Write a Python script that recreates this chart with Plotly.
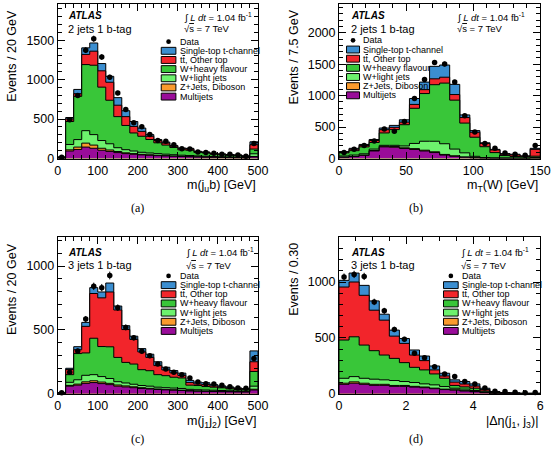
import numpy as np
import plotly.graph_objects as go

W, H = 560, 454

# ---------------- (a) m(j_u b), 2 jets 1 b-tag ----------------
a_edges = list(range(0, 520, 20))
a_data = [15, 490, 800, 1374, 1519, 1287, 1030, 830, 623, 452, 403, 303, 228, 220, 174, 125, 120, 83, 75, 66, 54, 54, 46, 29, 191]
a_multijet = [5, 95, 115, 145, 130, 105, 90, 75, 62, 54, 46, 41, 36, 32, 28, 25, 22, 19, 17, 15, 13, 11, 10, 8, 20]
a_zjets = [1, 15, 30, 50, 40, 25, 18, 14, 10, 8, 7, 6, 5, 4, 4, 3, 3, 3, 2, 2, 2, 2, 1, 1, 6]
a_wlight = [4, 68, 95, 158, 133, 98, 79, 48, 40, 33, 26, 23, 21, 19, 16, 14, 13, 11, 10, 9, 7, 7, 7, 5, 34]
a_wheavy = [5, 291, 548, 838, 880, 677, 552, 394, 307, 229, 203, 171, 137, 115, 92, 68, 67, 45, 42, 29, 26, 20, 19, 11, 60]
a_ttbar = [3, 33, 34, 129, 178, 207, 228, 145, 112, 83, 62, 41, 29, 26, 16, 14, 15, 6, 6, 6, 6, 6, 5, 5, 55]
a_stop = [2, 18, 54, 83, 104, 92, 75, 96, 75, 62, 42, 21, 13, 12, 10, 9, 9, 7, 6, 5, 4, 4, 4, 3, 37]

# ---------------- (b) m_T(W), 2 jets 1 b-tag ----------------
b_edges = [0, 7.5, 15, 22.5, 30, 37.5, 45, 52.5, 60, 67.5, 75, 82.5, 90, 97.5, 105, 112.5, 120, 127.5, 135, 142.5, 150]
b_data = [94, 146, 209, 277, 470, 433, 590, 955, 1258, 1529, 1503, 1216, 679, 423, 240, 162, 89, 68, 52, 209]
b_multijet = [20, 30, 50, 120, 185, 180, 160, 145, 120, 95, 55, 35, 20, 10, 5, 3, 3, 3, 2, 5]
b_zjets = [2, 3, 5, 8, 10, 10, 10, 12, 12, 12, 10, 8, 5, 3, 2, 1, 1, 1, 1, 2]
b_wlight = [18, 22, 20, 22, 15, 20, 30, 83, 143, 168, 170, 107, 65, 22, 8, 6, 4, 2, 2, 8]
b_wheavy = [50, 70, 110, 105, 197, 250, 338, 559, 759, 900, 965, 779, 474, 304, 173, 84, 39, 25, 21, 22]
b_ttbar = [13, 23, 23, 32, 52, 36, 41, 62, 62, 93, 94, 89, 88, 79, 52, 42, 21, 26, 11, 109]
b_stop = [7, 14, 16, 16, 26, 31, 37, 94, 120, 199, 194, 162, 42, 26, 10, 10, 10, 11, 5, 16]

# ---------------- (c) m(j1 j2), 3 jets 1 b-tag ----------------
c_edges = list(range(0, 520, 20))
c_data = [8, 169, 336, 585, 841, 831, 926, 674, 520, 438, 333, 297, 233, 195, 169, 149, 123, 92, 79, 77, 67, 56, 46, 44, 277]
c_multijet = [3, 60, 68, 82, 88, 80, 72, 60, 54, 48, 42, 38, 34, 31, 28, 26, 22, 20, 19, 18, 17, 16, 15, 14, 30]
c_zjets = [0, 6, 8, 12, 14, 12, 10, 9, 8, 7, 6, 5, 4, 4, 4, 3, 3, 3, 2, 2, 2, 2, 2, 2, 6]
c_wlight = [1, 24, 34, 51, 48, 43, 38, 26, 23, 20, 17, 17, 14, 13, 13, 13, 10, 9, 9, 8, 7, 6, 5, 4, 24]
c_wheavy = [3, 60, 205, 175, 285, 235, 248, 190, 161, 158, 124, 121, 98, 94, 85, 82, 33, 33, 27, 24, 21, 15, 12, 11, 115]
c_ttbar = [2, 40, 30, 208, 350, 381, 429, 371, 257, 193, 139, 104, 71, 45, 34, 20, 20, 12, 15, 10, 7, 7, 7, 2, 76]
c_stop = [1, 10, 24, 31, 46, 46, 70, 31, 30, 25, 26, 25, 30, 21, 18, 18, 17, 15, 15, 10, 8, 8, 5, 8, 85]

# ---------------- (d) |Delta eta(j1, j3)|, 3 jets 1 b-tag ----------------
d_edges = [0, 0.3, 0.6, 0.9, 1.2, 1.5, 1.8, 2.1, 2.4, 2.7, 3.0, 3.3, 3.6, 3.9, 4.2, 4.5, 4.8, 5.1, 5.4, 5.7, 6.0]
d_data = [1044, 1068, 1050, 822, 742, 576, 487, 362, 323, 243, 178, 154, 110, 89, 53, 24, 21, 15, 9, 12]
d_multijet = [85, 95, 85, 76, 76, 67, 67, 60, 55, 46, 38, 33, 25, 19, 10, 4, 3, 2, 1, 1]
d_zjets = [10, 12, 10, 9, 9, 8, 8, 7, 6, 5, 4, 3, 3, 2, 2, 1, 1, 1, 0, 0]
d_wlight = [44, 47, 44, 46, 40, 44, 35, 34, 28, 29, 23, 14, 14, 9, 6, 3, 1, 1, 1, 1]
d_wheavy = [342, 356, 297, 255, 222, 198, 169, 136, 125, 98, 74, 25, 20, 20, 7, 5, 2, 1, 1, 1]
d_ttbar = [474, 490, 445, 362, 312, 199, 172, 110, 83, 36, 21, 30, 26, 20, 13, 2, 2, 1, 1, 1]
d_stop = [60, 80, 89, 83, 53, 54, 44, 45, 41, 35, 24, 20, 22, 19, 12, 6, 3, 3, 2, 2]

legend_labels = ["Single-top t-channel", "t<span style='text-decoration:overline'>t</span>, Other top",
                 "W+heavy flavour", "W+light jets", "Z+Jets, Diboson", "Multijets"]
colors = ["#3b8ed0", "#f2252b", "#39c639", "#6df26d", "#fa9a2d", "#990c99"]

FONT = "Liberation Sans, Arial, Helvetica, sans-serif"
TICK_SIZE = 12.5
TITLE_SIZE = 12.5
LEG_SIZE = 9
LABEL_SIZE = 11
LUMI_SIZE = 9.5


def px(x):
    return x / W


def py(y):
    return 1 - y / H


panels = [
    dict(edges=a_edges, data=a_data,
         comps=[a_multijet, a_zjets, a_wlight, a_wheavy, a_ttbar, a_stop],
         frame=(56, 4, 261, 161), xr=[0, 500], yr=[0, 1960], xd=100, xm=20, yd=500, ym=100,
         xtitle="m(j<sub>u</sub>b) [GeV]", ytitle="Events / 20 GeV", ytx=9, tag="2 jets 1 b-tag",
         atlas=(65, 16, 29), lumi=(183, 17.5, 28.5), leg=(162, 177, 42.3), cap=("(a)", 138, 211)),
    dict(edges=b_edges, data=b_data,
         comps=[b_multijet, b_zjets, b_wlight, b_wheavy, b_ttbar, b_stop],
         frame=(344, 4, 550, 161), xr=[0, 150], yr=[0, 2460], xd=50, xm=10, yd=500, ym=100,
         xtitle="m<sub>T</sub>(W) [GeV]", ytitle="Events / 7.5 GeV", ytx=298, tag="2 jets 1 b-tag",
         atlas=(354, 16, 29), lumi=(463, 17.5, 28.5), leg=(351.7, 365, 41), cap=("(b)", 423, 211)),
    dict(edges=c_edges, data=c_data,
         comps=[c_multijet, c_zjets, c_wlight, c_wheavy, c_ttbar, c_stop],
         frame=(56, 241, 261, 400), xr=[0, 500], yr=[0, 1225], xd=100, xm=20, yd=500, ym=100,
         xtitle="m(j<sub>1</sub>j<sub>2</sub>) [GeV]", ytitle="Events / 20 GeV", ytx=9, tag="3 jets 1 b-tag",
         atlas=(65, 256.3, 269), lumi=(185, 255.8, 269.2), leg=(162, 177, 280.3), cap=("(c)", 138, 446)),
    dict(edges=d_edges, data=d_data,
         comps=[d_multijet, d_zjets, d_wlight, d_wheavy, d_ttbar, d_stop],
         frame=(344, 241, 550, 400), xr=[0, 6], yr=[0, 1400], xd=2, xm=0.5, yd=500, ym=100,
         xtitle="|\u0394\u03b7(j<sub>1</sub>, j<sub>3</sub>)|", ytitle="Events / 0.30", ytx=298, tag="3 jets 1 b-tag",
         atlas=(354, 256.3, 269), lumi=(466.7, 255.8, 269.2), leg=(451, 466, 280.3), cap=("(d)", 423, 446)),
]

fig = go.Figure()
annotations = []
shapes = []
stack_colors = list(reversed(colors))  # bottom -> top: multijet ... single top

for i, p in enumerate(panels, start=1):
    xa = "x" if i == 1 else f"x{i}"
    ya = "y" if i == 1 else f"y{i}"
    edges = np.array(p["edges"], dtype=float)
    cum = np.zeros(len(p["data"]))
    cums = []
    for comp in p["comps"]:
        cum = cum + np.array(comp, dtype=float)
        cums.append(cum.copy())
    # draw from the top of the stack down so lower components overlay
    for c, col in reversed(list(zip(cums, stack_colors))):
        xs = [edges[0]] + list(edges) + [edges[-1]]
        ys = [0] + list(c) + [c[-1], 0]
        fig.add_trace(go.Scatter(x=xs, y=ys, mode="lines", line=dict(shape="hv", color="black", width=1),
                                 fill="tozeroy", fillcolor=col, xaxis=xa, yaxis=ya, showlegend=False,
                                 hoverinfo="skip"))
    centers = (edges[:-1] + edges[1:]) / 2
    data = np.array(p["data"], dtype=float)
    fig.add_trace(go.Scatter(x=centers, y=data, mode="markers",
                             marker=dict(color="black", size=5.5),
                             error_y=dict(type="data", array=np.sqrt(data), width=0, thickness=1, color="black"),
                             xaxis=xa, yaxis=ya, showlegend=False, cliponaxis=False))

    x0, y0, x1, y1 = p["frame"]
    common = dict(showline=True, linecolor="black", linewidth=1, mirror="allticks", ticks="inside",
                  ticklen=7, tickwidth=1, tickcolor="black", showgrid=False, zeroline=False,
                  tickfont=dict(family=FONT, size=TICK_SIZE, color="black"))
    fig.layout[f"xaxis{'' if i == 1 else i}"] = dict(
        common, domain=[px(x0), px(x1)], range=p["xr"], dtick=p["xd"], tick0=0, anchor=ya,
        minor=dict(ticks="inside", ticklen=4, tickcolor="black", dtick=p["xm"], tick0=0, showgrid=False))
    fig.layout[f"yaxis{'' if i == 1 else i}"] = dict(
        common, domain=[py(y1), py(y0)], range=p["yr"], dtick=p["yd"], tick0=0, anchor=xa,
        minor=dict(ticks="inside", ticklen=4, tickcolor="black", dtick=p["ym"], tick0=0, showgrid=False))

    # axis titles
    annotations.append(dict(text=p["xtitle"], x=px(x1), y=py(y1 + 18), xref="paper", yref="paper",
                            xanchor="right", yanchor="top", showarrow=False,
                            font=dict(family=FONT, size=TITLE_SIZE, color="black")))
    annotations.append(dict(text=p["ytitle"], x=px(p["ytx"]), y=py(y0 + 4), xref="paper", yref="paper",
                            xanchor="center", yanchor="top", textangle=-90, showarrow=False,
                            font=dict(family=FONT, size=TITLE_SIZE, color="black")))
    # ATLAS label
    ax_, ay1, ay2 = p["atlas"]
    annotations.append(dict(text="<b><i>ATLAS</i></b>", x=px(ax_), y=py(ay1), xref="paper", yref="paper",
                            xanchor="left", yanchor="middle", showarrow=False,
                            font=dict(family=FONT, size=10, color="black")))
    annotations.append(dict(text=p["tag"], x=px(ax_), y=py(ay2), xref="paper", yref="paper",
                            xanchor="left", yanchor="middle", showarrow=False,
                            font=dict(family=FONT, size=LABEL_SIZE, color="black")))
    lx, ly1, ly2 = p["lumi"]
    annotations.append(dict(text="\u222b <i>L dt</i> = 1.04 fb<sup>-1</sup>", x=px(lx), y=py(ly1),
                            xref="paper", yref="paper", xanchor="left", yanchor="middle", showarrow=False,
                            font=dict(family=FONT, size=LUMI_SIZE, color="black")))
    annotations.append(dict(text="\u221a<span style='text-decoration:overline'>s</span> = 7 TeV",
                            x=px(lx), y=py(ly2), xref="paper", yref="paper",
                            xanchor="left", yanchor="middle", showarrow=False,
                            font=dict(family=FONT, size=LUMI_SIZE, color="black")))
    # legend
    bx0, bx1, yd0 = p["leg"]
    step = 9.3
    cx = (bx0 + bx1) / 2
    shapes.append(dict(type="circle", xref="paper", yref="paper", x0=px(cx - 2.4), x1=px(cx + 2.4),
                       y0=py(yd0 + 2.4), y1=py(yd0 - 2.4), fillcolor="black", line=dict(width=0)))
    annotations.append(dict(text="Data", x=px(bx1 + 2), y=py(yd0), xref="paper", yref="paper",
                            xanchor="left", yanchor="middle", showarrow=False,
                            font=dict(family=FONT, size=LEG_SIZE, color="black")))
    for k, (lab, col) in enumerate(zip(legend_labels, colors), start=1):
        yc = yd0 + k * step
        shapes.append(dict(type="rect", xref="paper", yref="paper", x0=px(bx0), x1=px(bx1),
                           y0=py(yc + 3.5), y1=py(yc - 3.5), fillcolor=col,
                           line=dict(color="black", width=1)))
        annotations.append(dict(text=lab, x=px(bx1 + 2), y=py(yc), xref="paper", yref="paper",
                                xanchor="left", yanchor="middle", showarrow=False,
                                font=dict(family=FONT, size=LEG_SIZE, color="black")))
    # caption
    t, cxp, cyp = p["cap"]
    annotations.append(dict(text=t, x=px(cxp), y=py(cyp), xref="paper", yref="paper",
                            xanchor="center", yanchor="middle", showarrow=False,
                            font=dict(family="Liberation Serif, Times New Roman, serif", size=12, color="black")))

fig.update_layout(width=W, height=H, margin=dict(l=0, r=0, t=0, b=0), paper_bgcolor="white",
                  plot_bgcolor="white", showlegend=False, annotations=annotations, shapes=shapes)
fig.write_html("out.html")
